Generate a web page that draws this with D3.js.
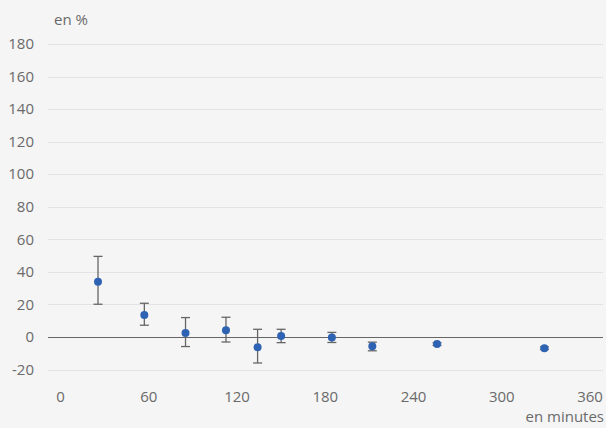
<!DOCTYPE html>
<html><head><meta charset="utf-8">
<script src="https://cdn.jsdelivr.net/npm/d3@7"></script>
<style>
html,body{margin:0;padding:0;background:#f5f5f5;}
svg{display:block;font-family:"Open Sans",sans-serif;}
</style></head>
<body>
<svg id="c" width="606" height="428"></svg>
<script>
const minutes = [25.5, 57, 85, 112.5, 134, 150, 184.5, 212, 256, 329];
const values  = [33.9, 13.5, 2.5, 4.1, -6.3, 0.6, -0.3, -5.7, -4.4, -6.9];
const lower   = [20.1, 7.2, -5.9, -3.1, -16, -3.5, -3.4, -8.5, -5.2, -7.7];
const upper   = [49.5, 20.7, 11.9, 12.1, 4.7, 4.7, 2.8, -3.2, -3.6, -6.1];
const yTicks = [-20, 0, 20, 40, 60, 80, 100, 120, 140, 160, 180];
const xTicks = [0, 60, 120, 180, 240, 300, 360];

const svg = d3.select("#c");
const x = d3.scaleLinear().domain([0, 360]).range([60.5, 590]);
const y = d3.scaleLinear().domain([-20, 180]).range([369.5, 44]);
const left = 48, right = 603;
const fs = 15, tc = "#6a6a6a";

// gridlines
svg.append("g").selectAll("line").data(yTicks.filter(d => d !== 0)).join("line")
  .attr("x1", left).attr("x2", right)
  .attr("y1", d => Math.round(y(d)) + 0.5).attr("y2", d => Math.round(y(d)) + 0.5)
  .attr("stroke", "#e3e3e3").attr("stroke-width", 1);

// y labels
svg.append("g").selectAll("text").data(yTicks).join("text")
  .attr("x", 34).attr("y", d => y(d)).attr("dy", "0.35em")
  .attr("text-anchor", "end").attr("fill", tc).attr("font-size", fs)
  .text(d => d);

// x labels
svg.append("g").selectAll("text").data(xTicks).join("text")
  .attr("x", d => x(d)).attr("y", 397).attr("dy", "0.35em")
  .attr("text-anchor", "middle").attr("fill", tc).attr("font-size", fs)
  .text(d => d);

// zero line
svg.append("line").attr("x1", left).attr("x2", right)
  .attr("y1", Math.round(y(0)) + 0.5).attr("y2", Math.round(y(0)) + 0.5)
  .attr("stroke", "#666").attr("stroke-width", 1.2);

// axis titles
svg.append("text").attr("x", 54).attr("y", 20).attr("dy", "0.35em")
  .attr("fill", tc).attr("font-size", fs).text("en %");
svg.append("text").attr("x", 604).attr("y", 417).attr("dy", "0.35em")
  .attr("text-anchor", "end").attr("fill", tc).attr("font-size", fs).text("en minutes");

const data = minutes.map((m, i) => ({m, v: values[i], lo: lower[i], hi: upper[i]}));

// error bars
const eb = svg.append("g").attr("stroke", "#666").attr("stroke-width", 1.3);
eb.selectAll("line.v").data(data).join("line").attr("class", "v")
  .attr("x1", d => x(d.m)).attr("x2", d => x(d.m))
  .attr("y1", d => y(d.lo)).attr("y2", d => y(d.hi));
eb.selectAll("line.t").data(data).join("line").attr("class", "t")
  .attr("x1", d => x(d.m) - 4.5).attr("x2", d => x(d.m) + 4.5)
  .attr("y1", d => y(d.hi)).attr("y2", d => y(d.hi));
eb.selectAll("line.b").data(data).join("line").attr("class", "b")
  .attr("x1", d => x(d.m) - 4.5).attr("x2", d => x(d.m) + 4.5)
  .attr("y1", d => y(d.lo)).attr("y2", d => y(d.lo));

// points
svg.append("g").selectAll("circle").data(data).join("circle")
  .attr("cx", d => x(d.m)).attr("cy", d => y(d.v)).attr("r", 4)
  .attr("fill", "#2e63b3");
</script>
</body></html>
